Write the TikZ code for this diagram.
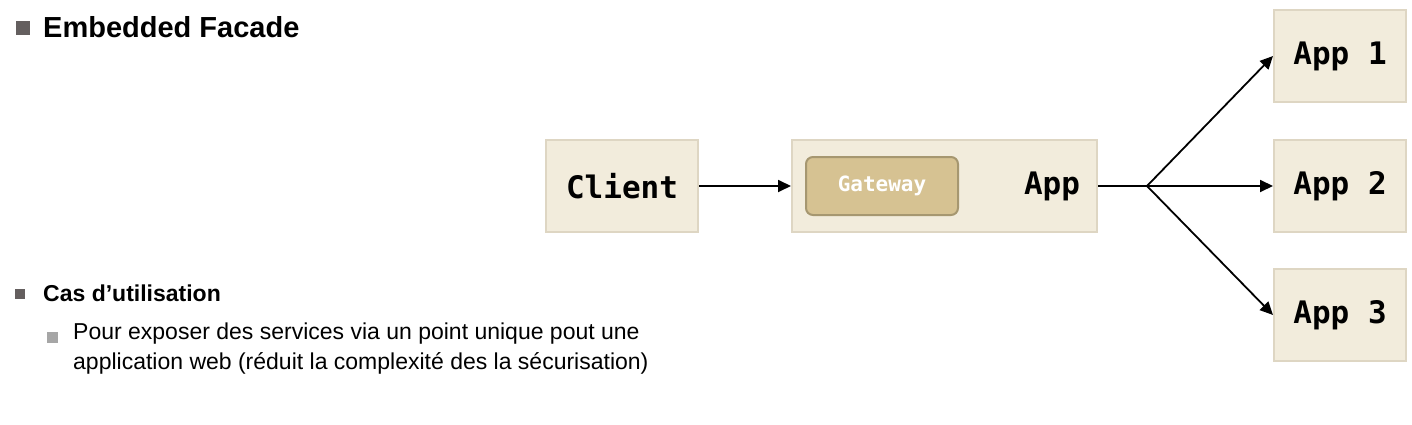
\documentclass[tikz,border=0pt]{standalone}
\usepackage{fontspec}
\setmainfont{Liberation Sans}
\setmonofont{DejaVu Sans Mono}
\usetikzlibrary{arrows.meta}
\definecolor{boxfill}{HTML}{F2ECDC}
\definecolor{boxedge}{HTML}{DED6C3}
\definecolor{gatefill}{HTML}{D6C292}
\definecolor{gateedge}{HTML}{A69770}
\definecolor{bulletdark}{HTML}{645F5F}
\definecolor{bulletlight}{HTML}{A6A6A6}
\begin{document}
\begin{tikzpicture}[x=1pt,y=-1pt,
  appbox/.style={draw=boxedge,line width=2pt,fill=boxfill,minimum height=92pt,inner sep=0pt,
    font=\ttfamily\bfseries\fontsize{31}{36}\selectfont},
  gatebox/.style={draw=gateedge,line width=2pt,fill=gatefill,rounded corners=7pt,minimum width=152pt,
    minimum height=58pt,inner sep=0pt,text=white,font=\ttfamily\bfseries\fontsize{21}{24}\selectfont},
  link/.style={line width=1.8pt,-{Triangle[length=13pt,width=12pt]}}]
\useasboundingbox (0,0) rectangle (1412,425);
        % texte a gauche
        \fill[bulletdark] (16,21) rectangle (30,35);
        \node[anchor=base west,inner sep=0pt,font=\bfseries\fontsize{29}{34}\selectfont] (title) at (43,38) {Embedded Facade};
        \fill[bulletdark] (15,289) rectangle (25,299);
        \node[anchor=base west,inner sep=0pt,font=\bfseries\fontsize{23}{27}\selectfont] (usecase) at (43,301) {Cas d’utilisation};
        \fill[bulletlight] (47,332) rectangle (58,343);
        \node[anchor=base west,inner sep=0pt,font=\fontsize{23}{28}\selectfont] (useline1) at (73,339) {Pour exposer des services via un point unique pout une};
        \node[anchor=base west,inner sep=0pt,font=\fontsize{23}{28}\selectfont] (useline2) at (73,369) {application web (réduit la complexité des la sécurisation)};
        % schema
        \node[appbox,minimum width=152pt] (client) at (622,186) {Client};
        \node[appbox,minimum width=305pt] (app) at (944.5,186) {};
        \node[gatebox] (gateway) at (882,186) {Gateway};
        \node[font=\ttfamily\bfseries\fontsize{31}{36}\selectfont,inner sep=0pt] (applabel) at (1052,186) {App};
        \coordinate (split) at (1147,186);
        \foreach \n/\y in {1/56,2/186,3/315} {
                \node[appbox,minimum width=132pt] (app\n) at (1340,\y) {App \n};
                \draw[link] (split) -- (app\n.west);
        }
        \draw[link] (client) -- (app);
        \draw[line width=1.8pt] (app) -- (split);
\end{tikzpicture}
\end{document}
